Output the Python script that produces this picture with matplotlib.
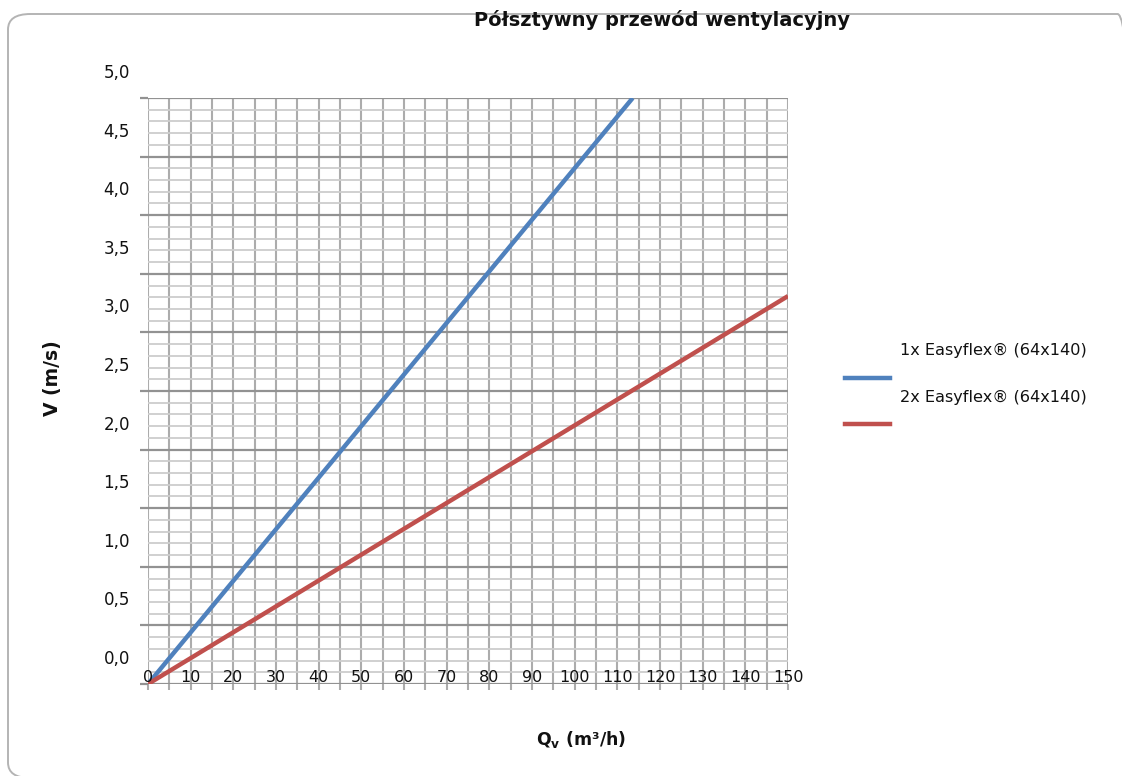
import matplotlib
matplotlib.use("Agg")
import matplotlib.pyplot as plt
import matplotlib.transforms as mtransforms
from matplotlib.patches import FancyBboxPatch
from matplotlib.lines import Line2D
import numpy as np

# ---- data ----
title = "Półsztywny przewód wentylacyjny"
series_labels = ["1x Easyflex® (64x140)", "2x Easyflex® (64x140)"]
q_1x = [0, 113.6]
v_1x = [0.0, 5.0]
q_2x = [0, 150]
v_2x = [0.0, 3.31]
x_ticks = [0, 10, 20, 30, 40, 50, 60, 70, 80, 90, 100, 110, 120, 130, 140, 150]
y_ticks = [0.0, 0.5, 1.0, 1.5, 2.0, 2.5, 3.0, 3.5, 4.0, 4.5, 5.0]
y_tick_labels = ["0,0", "0,5", "1,0", "1,5", "2,0", "2,5", "3,0", "3,5", "4,0", "4,5", "5,0"]

colors = ["#4f81bd", "#c0504d"]
W, H = 1122, 776
fig = plt.figure(figsize=(W / 100, H / 100), dpi=100)
fig.patch.set_facecolor("white")

# rounded frame (right and bottom edges fall outside the picture)
frame = FancyBboxPatch((8 / W, 1 - 778 / H), (1140 - 8) / W, (778 - 14) / H,
                       boxstyle="round,pad=0,rounding_size=0.02",
                       transform=fig.transFigure, facecolor="none",
                       edgecolor="#b4b4b4", lw=1.4, zorder=0)
fig.add_artist(frame)

L, R, T, B = 148, 788, 98, 684
ax = fig.add_axes([L / W, 1 - B / H, (R - L) / W, (B - T) / H])
ax.set_xlim(0, 150)
ax.set_ylim(0, 5)
for s in ax.spines.values():
    s.set_visible(False)

# grid
ax.set_xticks(np.arange(0, 151, 5))
ax.set_yticks(y_ticks)
ax.set_yticks(np.arange(0, 5.01, 0.1), minor=True)
ax.grid(False)
ax.grid(True, axis="y", which="minor", color="#cdcdcd", lw=1.3, zorder=1)
ax.grid(True, axis="y", which="major", color="#929292", lw=1.6, zorder=1)
ax.grid(True, axis="x", which="major", color="#acacac", lw=1.5, zorder=1)
ax.tick_params(axis="y", which="major", length=6, width=1.6, color="#929292",
               labelleft=False)
ax.tick_params(axis="y", which="minor", length=0, labelleft=False)
ax.tick_params(axis="x", which="major", length=4, width=1.5, color="#acacac",
               labelbottom=False)

# lines
ax.plot(q_1x, v_1x, color=colors[0], lw=3.2, solid_capstyle="butt", zorder=3, clip_on=True)
ax.plot(q_2x, v_2x, color=colors[1], lw=3.2, solid_capstyle="butt", zorder=3, clip_on=True)

# tick labels (y labels drawn shifted upward as in reference)
ytr = mtransforms.blended_transform_factory(ax.transAxes, ax.transData)
yoff = mtransforms.ScaledTranslation(-18 / 100, 25 / 100, fig.dpi_scale_trans)
for v, lab in zip(y_ticks, y_tick_labels):
    ax.text(0, v, lab, transform=ytr + yoff, ha="right", va="center",
            fontsize=12, color="#111111")
xtr = mtransforms.blended_transform_factory(ax.transData, ax.transAxes)
xoff = mtransforms.ScaledTranslation(0, 7 / 100, fig.dpi_scale_trans)
for q in x_ticks:
    ax.text(q, 0, str(q), transform=xtr + xoff, ha="center", va="center",
            fontsize=11.5, color="#111111", zorder=4)

# titles
fig.text(662 / W, 1 - 20 / H, title, ha="center", va="center",
         fontsize=14, fontweight="bold", color="#111111")
fig.text(53 / W, 1 - 378 / H, "V (m/s)", rotation=90, ha="center", va="center",
         fontsize=13.5, fontweight="bold", color="#111111")
fig.text(581 / W, 1 - 740 / H, r"Q$_{\mathbf{v}}$ (m³/h)", ha="center", va="center",
         fontsize=12.5, fontweight="bold", color="#111111")

# legend
leg_line_y = [378, 424]
leg_text_y = [350, 397]
for i, lab in enumerate(series_labels):
    fig.add_artist(Line2D([845 / W, 890 / W], [1 - leg_line_y[i] / H] * 2,
                          transform=fig.transFigure, color=colors[i], lw=3.2))
    fig.text(900 / W, 1 - leg_text_y[i] / H, lab, ha="left", va="center",
             fontsize=11.6, color="#111111")

fig.savefig("out.png", dpi=100)
